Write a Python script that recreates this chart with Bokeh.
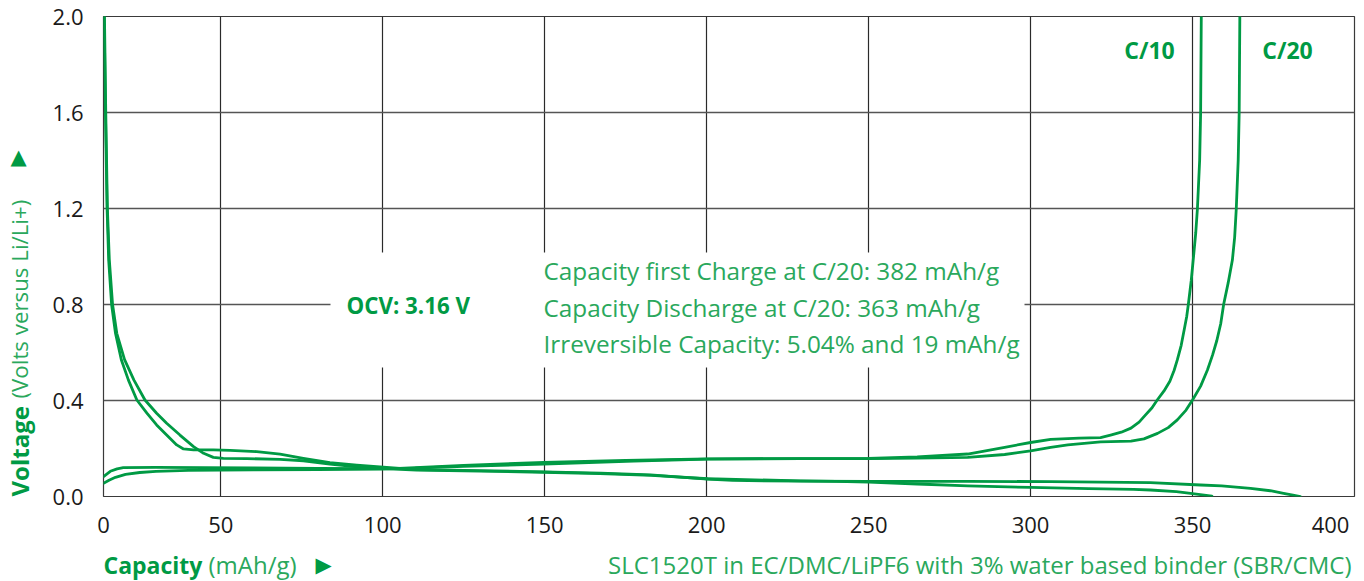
import math
from bokeh.plotting import figure
from bokeh.models import Range1d, FixedTicker, Label, BoxAnnotation
from bokeh.layouts import row, column
from bokeh.embed import file_html
from bokeh.resources import INLINE

# ---------------- data (capacity mAh/g, voltage V) ----------------
c20_lith_x = [14.0, 14.4, 14.9, 15.4, 16.3, 17.5, 19.3, 21.5, 24.1, 27.2, 30.2, 33.3, 36.4,
              38.5, 41.6, 47.7, 52.9, 61.1, 68.3, 75.5, 83.7, 92.0, 100.2, 110.5, 130.0,
              149.7, 167.3, 182.7, 193.0, 200.3, 208.0, 229.0, 250.0, 280.6, 306.2, 337.0,
              352.5, 359.0, 367.9, 374.0, 378.1, 381.0, 383.3]
c20_lith_y = [2.0, 1.6, 1.2, 0.985, 0.80, 0.68, 0.57, 0.485, 0.402, 0.347, 0.298, 0.256, 0.215,
              0.198, 0.194, 0.194, 0.192, 0.187, 0.177, 0.159, 0.141, 0.131, 0.122, 0.112, 0.108,
              0.103, 0.097, 0.090, 0.080, 0.073, 0.067, 0.064, 0.063, 0.063, 0.062, 0.058,
              0.048, 0.044, 0.034, 0.024, 0.013, 0.006, 0.0]

c10_lith_x = [14.1, 14.5, 15.0, 15.6, 16.6, 17.9, 20.3, 23.2, 26.6, 30.2, 33.3, 37.4, 41.6,
              44.7, 47.7, 50.8, 58.0, 68.3, 75.5, 83.7, 92.0, 100.2, 110.5, 130.0, 149.7,
              167.0, 183.0, 200.3, 229.0, 240.0, 250.0, 265.0, 280.6, 300.0, 318.0, 331.8,
              337.0, 345.0, 349.4, 353.0, 356.0]
c10_lith_y = [2.0, 1.6, 1.2, 0.985, 0.80, 0.68, 0.57, 0.485, 0.402, 0.347, 0.305, 0.256, 0.208,
              0.180, 0.163, 0.159, 0.158, 0.155, 0.149, 0.135, 0.124, 0.116, 0.110, 0.106, 0.101,
              0.095, 0.088, 0.074, 0.065, 0.063, 0.060, 0.052, 0.044, 0.038, 0.033, 0.030,
              0.027, 0.020, 0.013, 0.007, 0.002]

c20_delith_x = [13.8, 15.5, 17.5, 20.6, 25.0, 30.0, 40.0, 60.0, 80.0, 100.0, 110.0, 125.0,
                149.7, 175.0, 200.3, 229.0, 250.0, 265.0, 280.6, 292.0, 300.0, 306.2, 311.5,
                321.6, 331.0, 335.0, 339.2, 342.5, 345.3, 348.0, 350.0, 352.5, 354.6, 356.2,
                357.5, 358.7, 359.6, 361.0, 362.3, 363.0, 363.5, 364.1, 364.4, 364.6]
c20_delith_y = [0.055, 0.068, 0.080, 0.092, 0.100, 0.105, 0.109, 0.111, 0.112, 0.114, 0.120, 0.130,
                0.142, 0.150, 0.157, 0.158, 0.158, 0.160, 0.163, 0.175, 0.190, 0.205, 0.215,
                0.228, 0.231, 0.240, 0.263, 0.287, 0.319, 0.360, 0.402, 0.460, 0.527, 0.590,
                0.650, 0.720, 0.800, 0.890, 0.985, 1.080, 1.198, 1.402, 1.600, 2.000]

c10_delith_x = [13.8, 15.9, 18.0, 19.9, 30.0, 60.0, 80.0, 100.0, 110.0, 125.0, 149.7, 177.5,
                200.3, 229.0, 250.0, 265.0, 280.6, 292.0, 300.0, 306.2, 315.0, 321.6, 324.7,
                328.0, 331.0, 333.5, 335.5, 337.5, 339.1, 341.2, 343.0, 344.3, 345.3, 346.5,
                347.5, 348.2, 348.7, 349.6, 350.4, 351.0, 351.5, 352.2, 352.5, 352.7]
c10_delith_y = [0.083, 0.105, 0.115, 0.120, 0.121, 0.119, 0.117, 0.116, 0.118, 0.126, 0.135, 0.148,
                0.156, 0.158, 0.159, 0.165, 0.177, 0.205, 0.225, 0.238, 0.243, 0.245, 0.256,
                0.268, 0.285, 0.310, 0.340, 0.370, 0.402, 0.440, 0.480, 0.525, 0.569, 0.630,
                0.700, 0.750, 0.800, 0.900, 1.013, 1.100, 1.198, 1.402, 1.600, 2.000]

x_tick_labels = ["0", "50", "100", "150", "200", "250", "300", "350", "400"]
y_ticks = [0.0, 0.4, 0.8, 1.2, 1.6, 2.0]
x_grid = [50, 100, 150, 200, 250, 300, 350]

info_lines = ["Capacity first Charge at C/20: 382 mAh/g",
              "Capacity Discharge at C/20: 363 mAh/g",
              "Irreversible Capacity: 5.04% and 19 mAh/g"]
ocv_text = "OCV: 3.16 V"
rate_labels = ["C/10", "C/20"]
y_title = ["Voltage", "(Volts versus Li/Li+)"]
x_title = ["Capacity", "(mAh/g)"]
footnote = "SLC1520T in EC/DMC/LiPF6 with 3% water based binder (SBR/CMC)"

# ---------------- styling / layout ----------------
GREEN = "#009a44"
GREEN_TXT = "#2aa85c"
FONT = "Open Sans"
X0, X1 = 13.8, 400.0
LW = 40                  # width of the left title strip
FW, FH = 1251, 480       # plot frame
BL_PAGE, BT = 103, 16    # frame left / top on the page
MB = 46                  # bottom border of main figure
MAIN_H = BT + FH + MB
BOT_H = 580 - MAIN_H
MAIN_W = (BL_PAGE - LW) + FW + 4


def dx(px):   # page pixel -> capacity value (for label placement)
    return X0 + (px - BL_PAGE) * (X1 - X0) / FW


def dy(py):   # page pixel -> voltage value (for label placement)
    return (BT + FH - py) * 2.0 / FH


p = figure(frame_width=FW, frame_height=FH, output_backend="svg", toolbar_location=None,
           x_range=Range1d(X0, X1), y_range=Range1d(0, 2.0),
           min_border_left=BL_PAGE - LW, min_border_right=4, min_border_top=BT,
           min_border_bottom=MB)
p.background_fill_color = "white"
p.border_fill_color = "white"
p.outline_line_color = "#3a3a3a"
p.outline_line_width = 1.2

# axes
x_tick_pos = [X0, 50, 100, 150, 200, 250, 300, 350, 392.6]
p.xaxis.ticker = FixedTicker(ticks=x_tick_pos)
p.xaxis.major_label_overrides = {t: s for t, s in zip(x_tick_pos, x_tick_labels)}
p.yaxis.ticker = FixedTicker(ticks=y_ticks)
p.yaxis.major_label_overrides = {t: f"{t:.1f}" for t in y_ticks}
for ax in (p.xaxis[0], p.yaxis[0]):
    ax.axis_line_color = None
    ax.major_tick_line_color = None
    ax.minor_tick_line_color = None
    ax.major_label_text_font = FONT
    ax.major_label_text_font_size = "22px"
    ax.major_label_text_color = "#1a1a1a"
p.xaxis[0].major_label_standoff = 14
p.yaxis[0].major_label_standoff = 14

p.xgrid[0].ticker = FixedTicker(ticks=x_grid)
p.xgrid[0].grid_line_color = "#2a2a2a"
p.xgrid[0].grid_line_width = 1.2
p.ygrid[0].ticker = FixedTicker(ticks=y_ticks)
p.ygrid[0].grid_line_color = "#555555"
p.ygrid[0].grid_line_width = 1.4

# curves
for xs, ys in ((c20_lith_x, c20_lith_y), (c10_lith_x, c10_lith_y),
               (c20_delith_x, c20_delith_y), (c10_delith_x, c10_delith_y)):
    p.line(xs, ys, line_color=GREEN, line_width=2.8, line_join="round", line_cap="round")

# white panel behind the info text (interrupts gridlines as in the original)
p.add_layout(BoxAnnotation(left=dx(330), right=dx(1024), bottom=dy(367), top=dy(252),
                           fill_color="white", fill_alpha=1.0, line_color=None))

# info texts
p.add_layout(Label(x=dx(346), y=dy(305), text=ocv_text, text_font=FONT,
                   text_font_style="bold", text_font_size="22.3px", text_color=GREEN,
                   text_baseline="middle"))
for t, py in zip(info_lines, [270, 307, 343]):
    p.add_layout(Label(x=dx(543), y=dy(py), text=t, text_font=FONT, text_font_size="24.3px",
                       text_color=GREEN_TXT, text_baseline="middle"))
for t, px in zip(rate_labels, [1149, 1287]):
    p.add_layout(Label(x=dx(px), y=dy(49), text=t, text_font=FONT, text_font_style="bold",
                       text_font_size="23px", text_color=GREEN, text_align="center",
                       text_baseline="middle"))

# left strip: vertical axis title
left = figure(width=LW, height=580, output_backend="svg", toolbar_location=None,
              x_range=Range1d(0, LW), y_range=Range1d(580, 0),
              x_axis_type=None, y_axis_type=None, min_border=0)
left.outline_line_color = None
left.grid.visible = False
left.add_layout(Label(x=19, y=496, text=y_title[0], angle=math.pi / 2, text_font=FONT,
                      text_font_style="bold", text_font_size="24px", text_color=GREEN,
                      text_baseline="middle"))
left.add_layout(Label(x=19, y=398, text=y_title[1], angle=math.pi / 2, text_font=FONT,
                      text_font_size="22.3px", text_color=GREEN_TXT, text_baseline="middle"))
left.add_layout(Label(x=18, y=156, text="▲", text_font="DejaVu Sans", text_font_size="21px",
                      text_color=GREEN, text_align="center", text_baseline="middle"))

# bottom strip (its frame is aligned with the main frame): axis title and footnote
bottom = figure(width=MAIN_W, height=BOT_H, output_backend="svg", toolbar_location=None,
                x_range=Range1d(X0, X1), y_range=Range1d(BOT_H, 0),
                x_axis_type=None, y_axis_type=None, min_border=0,
                min_border_left=BL_PAGE - LW, min_border_right=4)
bottom.outline_line_color = None
bottom.grid.visible = False
by = 564 - MAIN_H
bottom.add_layout(Label(x=dx(103), y=by, text=x_title[0], text_font=FONT,
                        text_font_style="bold", text_font_size="23px", text_color=GREEN,
                        text_baseline="middle"))
bottom.add_layout(Label(x=dx(208), y=by, text=x_title[1], text_font=FONT,
                        text_font_size="24px", text_color=GREEN_TXT, text_baseline="middle"))
bottom.add_layout(Label(x=dx(323), y=by, text="▶", text_font="DejaVu Sans",
                        text_font_size="21px", text_color=GREEN, text_align="center",
                        text_baseline="middle"))
bottom.add_layout(Label(x=dx(1351), y=by, text=footnote, text_font=FONT,
                        text_font_size="24px", text_color=GREEN_TXT, text_align="right",
                        text_baseline="middle"))

layout = row(left, column(p, bottom))
open("out.html", "w").write(file_html(layout, INLINE))
